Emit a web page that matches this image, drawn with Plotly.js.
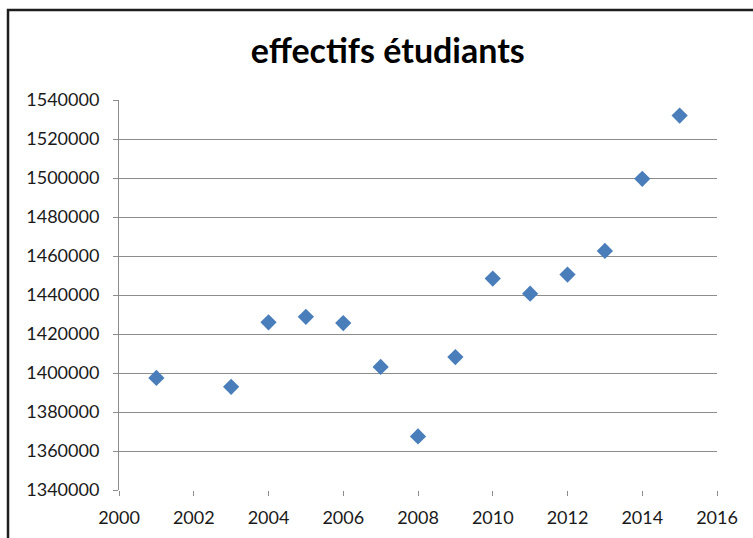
<!DOCTYPE html>
<html>
<head>
<meta charset="utf-8">
<script src="https://cdn.plot.ly/plotly-3.0.1.min.js"></script>
<style>
  html, body { margin: 0; padding: 0; background: #fff; }
  #chart { width: 753px; height: 538px; }
</style>
</head>
<body>
<div id="chart"></div>
<script>
// Student enrolment per year
const years = [2001, 2003, 2004, 2005, 2006, 2007, 2008, 2009, 2010, 2011, 2012, 2013, 2014, 2015];
const students = [1397500, 1392900, 1426000, 1428800, 1425600, 1403100, 1367500, 1408200, 1448400, 1440700, 1450500, 1462600, 1499600, 1532000];

const xTicks = [2000, 2002, 2004, 2006, 2008, 2010, 2012, 2014, 2016];
const yTicks = [1340000, 1360000, 1380000, 1400000, 1420000, 1440000, 1460000, 1480000, 1500000, 1520000, 1540000];

const tickFont = { family: 'Lato, "Open Sans", sans-serif', size: 18, color: '#1a1a1a' };

const trace = {
  type: 'scatter',
  mode: 'markers',
  x: years,
  y: students,
  marker: { symbol: 'diamond', size: 12.5, color: '#4a7ebb', line: { width: 0 } },
  hoverinfo: 'x+y'
};

const layout = {
  width: 753,
  height: 538,
  margin: { l: 119, r: 36, t: 100, b: 48 },
  paper_bgcolor: '#ffffff',
  plot_bgcolor: '#ffffff',
  showlegend: false,
  title: {
    text: '<b>effectifs étudiants</b>',
    font: { family: 'Lato, "Open Sans", sans-serif', size: 34, color: '#000000', weight: 800 },
    x: 0.515,
    xanchor: 'center',
    y: 0.905,
    yanchor: 'middle'
  },
  xaxis: {
    range: [2000, 2016],
    tickvals: xTicks,
    ticktext: xTicks.map(String),
    showgrid: false,
    zeroline: false,
    showline: false,
    ticks: 'outside',
    ticklen: 5,
    tickcolor: '#8c8c8c',
    tickfont: tickFont,
    ticklabelstandoff: 6,
    fixedrange: true
  },
  yaxis: {
    range: [1340000, 1540000],
    tickvals: yTicks,
    ticktext: yTicks.map(String),
    showgrid: true,
    gridcolor: '#8c8c8c',
    gridwidth: 1,
    zeroline: false,
    showline: true,
    linecolor: '#8c8c8c',
    linewidth: 1,
    ticks: 'outside',
    ticklen: 5,
    tickcolor: '#8c8c8c',
    tickfont: tickFont,
    ticklabelstandoff: 10,
    fixedrange: true
  },
  shapes: [
    {
      // chart frame, running off the right and bottom edges
      type: 'rect',
      xref: 'paper', yref: 'paper',
      x0: -0.1856, x1: 1.15,
      y0: -0.2, y1: 1.2308,
      line: { color: '#1e1e1e', width: 2.5 },
      fillcolor: 'rgba(0,0,0,0)',
      layer: 'above'
    }
  ]
};

Plotly.newPlot('chart', [trace], layout, { displayModeBar: false, staticPlot: true });
</script>
</body>
</html>
